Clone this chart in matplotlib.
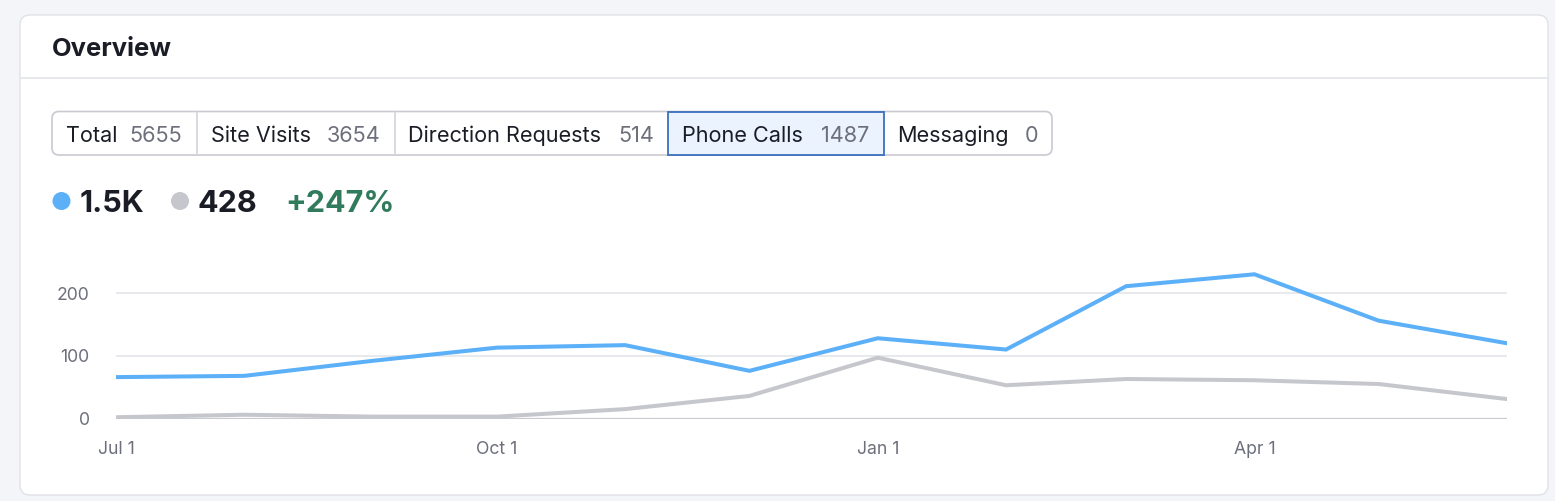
import matplotlib
matplotlib.use("Agg")
import matplotlib.pyplot as plt
from matplotlib.patches import FancyBboxPatch, Rectangle, Circle
from matplotlib.transforms import IdentityTransform
from datetime import date

plt.rcParams['font.family'] = ['Inter', 'DejaVu Sans']

# data
months = [date(2023, 7, 1), date(2023, 8, 1), date(2023, 9, 1), date(2023, 10, 1),
          date(2023, 11, 1), date(2023, 12, 1), date(2024, 1, 1), date(2024, 2, 1),
          date(2024, 3, 1), date(2024, 4, 1), date(2024, 5, 1), date(2024, 6, 1)]
current = [66, 68, 92, 113, 117, 76, 128, 110, 211, 230, 156, 120]
previous = [2, 6, 3, 3, 15, 36, 97, 53, 63, 61, 55, 31]

tab_labels = ["Total", "Site Visits", "Direction Requests", "Phone Calls", "Messaging"]
tab_values = ["5655", "3654", "514", "1487", "0"]
selected_tab = 3

current_total = "1.5K"
previous_total = "428"
change = "+247%"

y_ticks = [0, 100, 200]
x_ticks = [date(2023, 7, 1), date(2023, 10, 1), date(2024, 1, 1), date(2024, 4, 1)]
x_tick_labels = ["Jul 1", "Oct 1", "Jan 1", "Apr 1"]

BLUE = '#5cb0f8'
GRAY = '#c6c7cd'
DARK = '#1b1d26'
MUTED = '#6d6f7b'

W, H = 1555, 501
fig = plt.figure(figsize=(W / 100, H / 100), dpi=100)
fig.patch.set_facecolor('#f4f5f9')
ident = IdentityTransform()


def py(y):
    # pixel row from top -> display y
    return H - y


# card
card = FancyBboxPatch((20, py(495)), 1528, 480,
                      boxstyle='round,pad=0,rounding_size=10',
                      facecolor='white', edgecolor='#e1e2e7', lw=1, transform=ident, zorder=-2)
fig.add_artist(card)
fig.add_artist(plt.Line2D([20.5, 1547.5], [py(78), py(78)], color='#e3e4e9', lw=1.2, transform=ident))

fig.text(52 / W, py(56.5) / H, "Overview", fontsize=18.4, fontweight='bold',
         color=DARK, va='baseline', ha='left')

# tabs
edges = [52, 196.5, 394.5, 668, 883.5, 1052]
tab_top, tab_bot = 111.5, 155
tabs_box = FancyBboxPatch((edges[0], py(tab_bot)), edges[-1] - edges[0], tab_bot - tab_top,
                          boxstyle='round,pad=0,rounding_size=7',
                          facecolor='white', edgecolor='#c9cad1', lw=1.2, transform=ident)
fig.add_artist(tabs_box)
for i, (lab, val) in enumerate(zip(tab_labels, tab_values)):
    x0, x1 = edges[i], edges[i + 1]
    if i == selected_tab:
        fig.add_artist(Rectangle((x0, py(tab_bot)), x1 - x0, tab_bot - tab_top,
                                 facecolor='#ebf3fe', edgecolor='#3b6fbf', lw=1.3,
                                 transform=ident, zorder=3))
    elif 0 < i and i - 1 != selected_tab:
        fig.add_artist(plt.Line2D([x0, x0], [py(tab_bot), py(tab_top)], color='#d3d4da',
                                  lw=1.2, transform=ident))
    fig.text((x0 + 14) / W, py(141.7) / H, lab, fontsize=15.6, color=DARK,
             va='baseline', ha='left', zorder=4)
    fig.text((x1 - 14) / W, py(141.7) / H, val, fontsize=15.6, color=MUTED,
             va='baseline', ha='right', zorder=4)

# summary numbers
fig.add_artist(Circle((61.5, py(201)), 9, facecolor=BLUE, edgecolor='none', transform=ident))
fig.text(79.5 / W, py(211.7) / H, current_total, fontsize=22, fontweight='bold',
         color=DARK, va='baseline', ha='left')
fig.add_artist(Circle((180, py(201)), 9, facecolor=GRAY, edgecolor='none', transform=ident))
fig.text(197.5 / W, py(211.7) / H, previous_total, fontsize=22, fontweight='bold',
         color=DARK, va='baseline', ha='left')
fig.text(285.5 / W, py(211.7) / H, change, fontsize=22, fontweight='bold',
         color='#2f7b5c', va='baseline', ha='left')

# line chart
ax_left, ax_right, ax_bottom = 116, 1507, 418.5
ymax = 250
ax_top = ax_bottom - ymax * 0.627
ax = fig.add_axes([ax_left / W, py(ax_bottom) / H, (ax_right - ax_left) / W,
                   (ax_bottom - ax_top) / H])
ax.set_zorder(5)
ax.set_facecolor('none')
ax.plot(months, previous, color=GRAY, lw=2.9, solid_joinstyle='miter', zorder=3)
ax.plot(months, current, color=BLUE, lw=2.9, solid_joinstyle='miter', zorder=4)
ax.set_xlim(months[0], months[-1])
ax.set_ylim(0, ymax)
for s in ax.spines.values():
    s.set_visible(False)
for t in y_ticks[1:]:
    ax.axhline(t, color='#e4e5ea', lw=1.2, zorder=1)
ax.axhline(0, color='#c9cad0', lw=1.6, zorder=2)
ax.set_yticks(y_ticks)
ax.set_xticks(x_ticks)
ax.set_xticklabels(x_tick_labels)
ax.tick_params(axis='y', length=0, pad=19, labelsize=12.7, labelcolor=MUTED)
ax.tick_params(axis='x', length=0, pad=16.5, labelsize=12.7, labelcolor=MUTED)

fig.savefig('out.png', dpi=100, facecolor=fig.get_facecolor())
